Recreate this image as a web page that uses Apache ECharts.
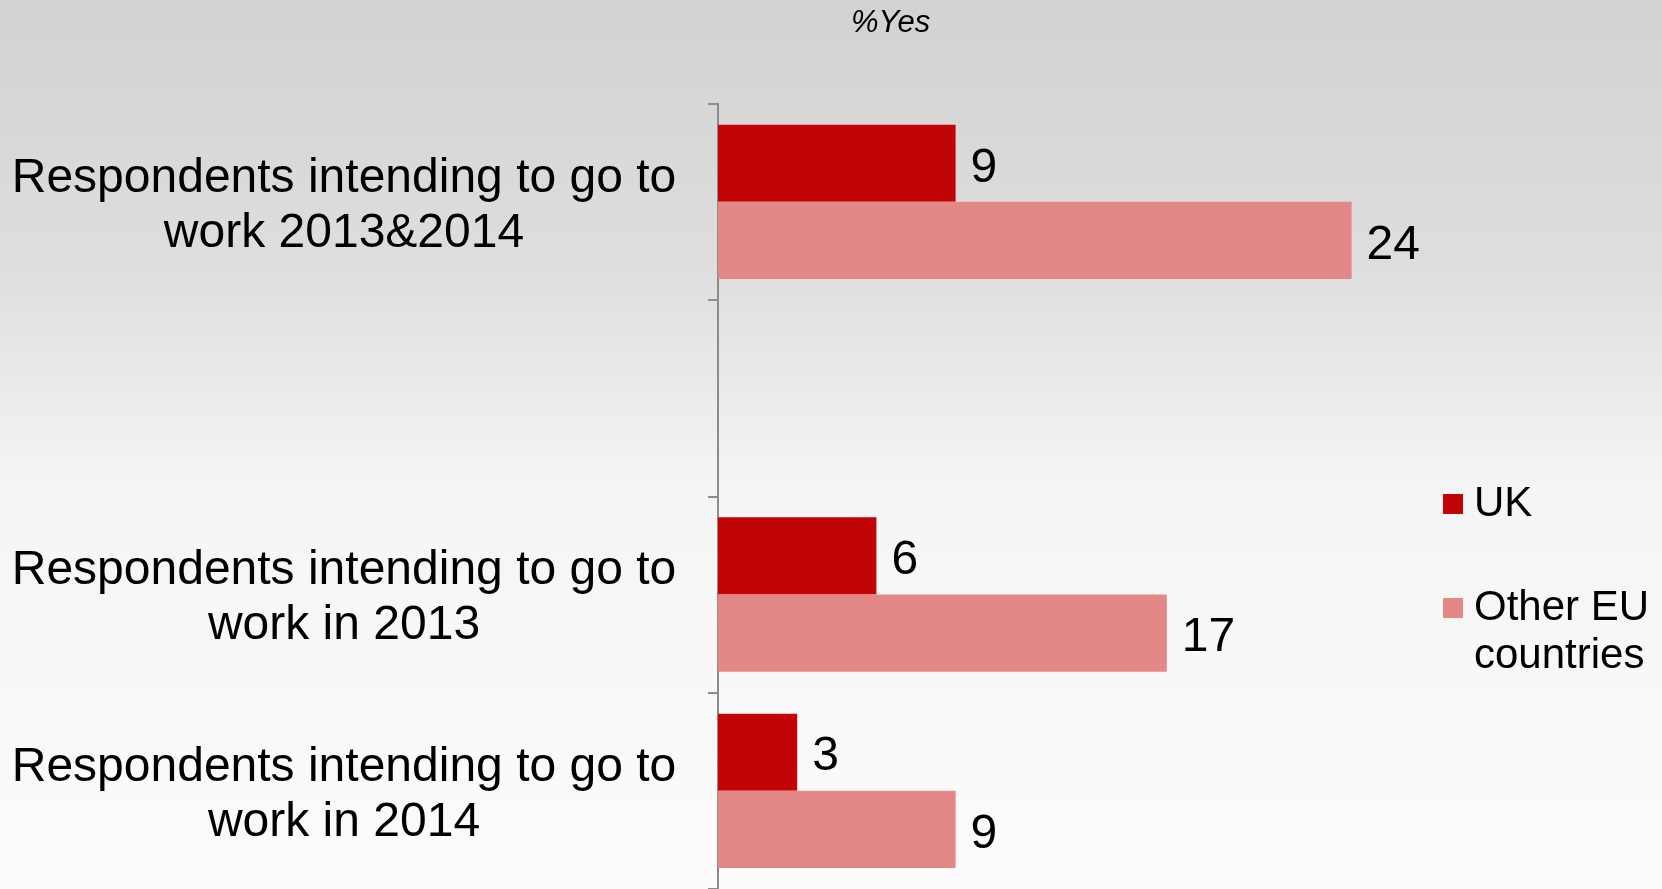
<!DOCTYPE html>
<html>
<head>
<meta charset="utf-8">
<script src="https://cdn.jsdelivr.net/npm/echarts@6/dist/echarts.min.js"></script>
<style>
html,body{margin:0;padding:0;}
#chart{width:1662px;height:889px;}
</style>
</head>
<body>
<div id="chart"></div>
<script>
const categories = [
  'Respondents intending to go to\nwork 2013&2014',
  '',
  'Respondents intending to go to\nwork in 2013',
  'Respondents intending to go to\nwork in 2014'
];
const seriesNames = ['UK', 'Other EU countries'];
const ukValues = [9, '-', 6, 3];
const otherEuValues = [24, '-', 17, 9];
const titleText = '%Yes';

const chart = echarts.init(document.getElementById('chart'));
const FONT = '"Liberation Sans", Arial, sans-serif';
const valueLabel = {
  show: true, position: 'right', distance: 15, offset: [0, 5],
  fontFamily: FONT, fontSize: 48, color: '#000'
};
chart.setOption({
  animation: false,
  backgroundColor: {
    type: 'linear', x: 0, y: 0, x2: 0, y2: 1,
    colorStops: [
      { offset: 0, color: '#d2d2d2' },
      { offset: 0.3, color: '#dedede' },
      { offset: 0.55, color: '#f5f5f5' },
      { offset: 1, color: '#fdfbfc' }
    ]
  },
  title: {
    text: titleText, left: 846, top: 3,
    textStyle: { fontFamily: FONT, fontStyle: 'italic', fontWeight: 'normal', fontSize: 31, color: '#000' }
  },
  legend: {
    orient: 'vertical', left: 1438, top: 475,
    itemWidth: 20, itemHeight: 20, itemGap: 8,
    icon: 'rect',
    formatter: function (n) { return n === 'Other EU countries' ? '\nOther EU\ncountries' : n; },
    textStyle: { fontFamily: FONT, fontSize: 42, color: '#000', lineHeight: 48, padding: [0, 0, 0, 6] },
    data: [{ name: 'UK' }, { name: 'Other EU countries' }]
  },
  grid: { left: 718, right: 152, top: 103.7, bottom: -3.5, containLabel: false },
  xAxis: { type: 'value', min: 0, max: 30, show: false },
  yAxis: {
    type: 'category', inverse: true, data: categories,
    axisLine: { show: true, lineStyle: { color: '#8c8c8c', width: 2 } },
    axisTick: { show: true, length: 10, lineStyle: { color: '#8c8c8c', width: 2 } },
    axisLabel: {
      align: 'center', margin: 374, color: '#000',
      formatter: function (v) {
        if (!v) return '';
        return '{s| }\n' + v.split('\n').map(function (l) { return '{l|' + l + '}'; }).join('\n');
      },
      rich: {
        s: { fontSize: 1, lineHeight: 8 },
        l: { fontFamily: FONT, fontSize: 48, lineHeight: 55, color: '#000' }
      }
    },
    splitLine: { show: false }
  },
  series: [
    { name: seriesNames[0], type: 'bar', data: ukValues, barWidth: '39.3%', barGap: '0%',
      itemStyle: { color: '#c10406' }, label: valueLabel },
    { name: seriesNames[1], type: 'bar', data: otherEuValues, barWidth: '39.3%', barGap: '0%',
      itemStyle: { color: '#e38886' }, label: valueLabel }
  ]
});
</script>
</body>
</html>
